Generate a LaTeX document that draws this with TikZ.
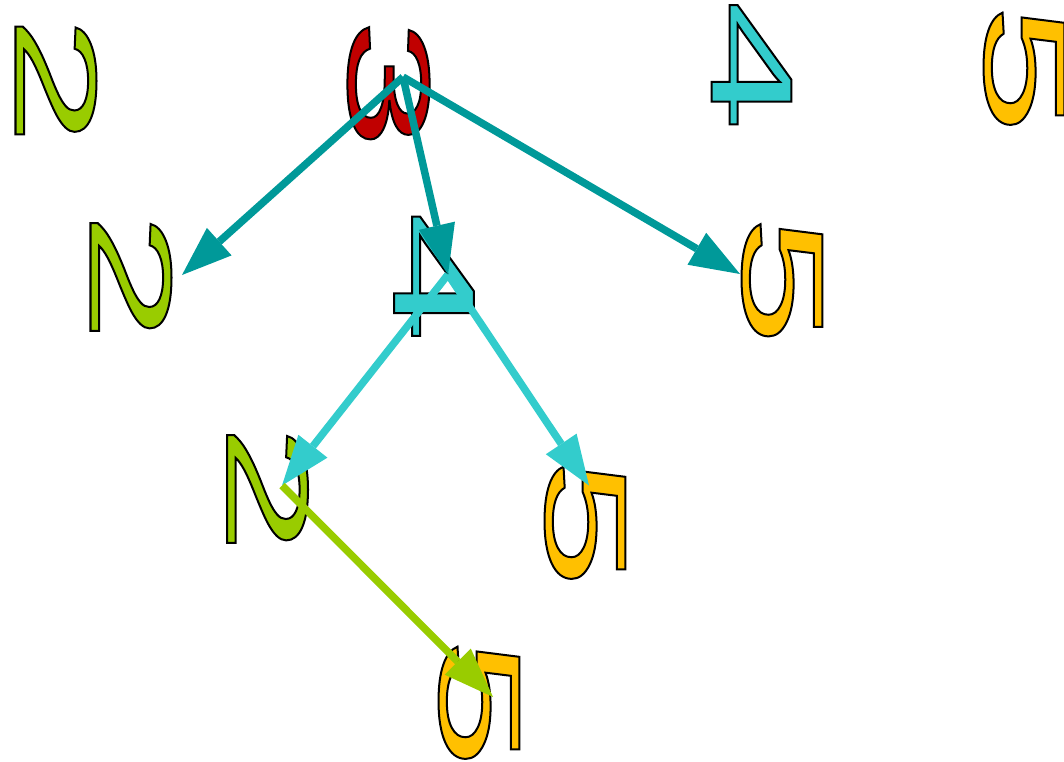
\documentclass[tikz,border=0pt]{standalone}
\usepackage{fontspec}
\usetikzlibrary{arrows.meta}
\newfontfamily\digitfont[FakeStretch=2.04]{Liberation Sans}
\newcommand\outlinedigit[1]{\special{pdf:literal direct 0 0 0 RG 2 w 2 Tr}#1\special{pdf:literal direct 0 Tr}}
\definecolor{cteal}{HTML}{009999}
\definecolor{ccyan}{HTML}{33CCCC}
\definecolor{cgreen}{HTML}{99CC00}
\definecolor{cred}{HTML}{C00000}
\definecolor{camber}{HTML}{FFC000}
\begin{document}
\begin{tikzpicture}[x=1pt,y=-1pt,
  digit/.style={inner sep=0pt, outer sep=0pt, rotate=-90,
    font=\digitfont\fontsize{116pt}{116pt}\selectfont},
  edge/.style={line width=7.5pt,
    -{Triangle[length=50pt,width=37pt,line width=0pt]}}]
\useasboundingbox (0,0) rectangle (1064,761);
% top row
\node[digit, text=cgreen] (t2) at (56,80.5) {\outlinedigit{2}};
\node[digit, text=cred]   (t3) at (388.5,84) {\outlinedigit{3}};
\node[digit, text=ccyan]  (t4) at (751.5,65.5) {\outlinedigit{4}};
\node[digit, text=camber] (t5) at (1024,69) {\outlinedigit{5}};
% tree
\node[digit, text=cgreen] (m2) at (131,277) {\outlinedigit{2}};
\node[digit, text=ccyan]  (m4) at (434,277) {\outlinedigit{4}};
\node[digit, text=camber] (m5) at (782,280.5) {\outlinedigit{5}};
\node[digit, text=cgreen] (l2) at (267.5,489) {\outlinedigit{2}};
\node[digit, text=camber] (l5) at (585,523) {\outlinedigit{5}};
\node[digit, text=camber] (b5) at (479,703) {\outlinedigit{5}};
% edge anchor points
\coordinate (p3) at (403,77);
\coordinate (pm2) at (182,275);
\coordinate (pm4) at (448,274.5);
\coordinate (pm5) at (740,274);
\coordinate (pl2) at (282,485.5);
\coordinate (pl5) at (589,485.5);
\coordinate (pb5) at (493,697);
% edges
\draw[edge, cteal] (p3) -- (pm2);
\draw[edge, cteal] (p3) -- (pm4);
\draw[edge, cteal] (p3) -- (pm5);
\draw[edge, ccyan] (pm4) -- (pl2);
\draw[edge, ccyan] (pm4) -- (pl5);
\draw[edge, cgreen] (pl2) -- (pb5);
\end{tikzpicture}
\end{document}
